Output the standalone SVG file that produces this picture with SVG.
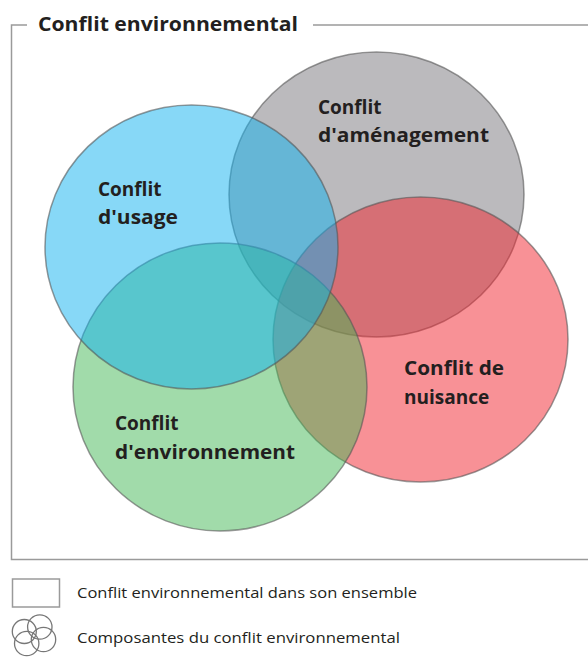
<svg xmlns="http://www.w3.org/2000/svg" width="588" height="657" viewBox="0 0 588 657">
<style>
.frame{fill:none;stroke:#9a9a9a;stroke-width:1.5}
.c{stroke:#555;stroke-opacity:0.6;stroke-width:1.5;fill-opacity:0.5}
.lbl{font-family:"Open Sans","Noto Sans",sans-serif;font-weight:700;font-size:19px;fill:#231f20}
.title{font-family:"Open Sans","Noto Sans",sans-serif;font-weight:700;font-size:19px;fill:#231f20}
.leg{font-family:"Open Sans","Noto Sans",sans-serif;font-size:14px;fill:#231f20}
.ic{fill:none;stroke:#777;stroke-width:1.3}
</style>
<rect width="588" height="657" fill="#ffffff"/>
<g id="frame">
<path class="frame" d="M27,25 H11.5 V559.5 H588"/>
<path class="frame" d="M313,25 H588"/>
<text class="title" x="38" y="31" textLength="260" lengthAdjust="spacingAndGlyphs">Conflit environnemental</text>
</g>
<g id="amenagement">
<ellipse class="c" cx="376.5" cy="194.5" rx="147.5" ry="142.5" fill="#77757b"/>
<text class="lbl" x="318" y="114">Conflit</text>
<text class="lbl" x="318" y="142" textLength="171" lengthAdjust="spacingAndGlyphs">d'aménagement</text>
</g>
<g id="nuisance">
<ellipse class="c" cx="420.5" cy="339.5" rx="147.5" ry="142.5" fill="#f1232d"/>
<text class="lbl" x="404" y="375" textLength="100" lengthAdjust="spacingAndGlyphs">Conflit de</text>
<text class="lbl" x="404" y="404">nuisance</text>
</g>
<g id="environnement">
<ellipse class="c" cx="220" cy="387" rx="147" ry="144" fill="#43b755"/>
<text class="lbl" x="115" y="430">Conflit</text>
<text class="lbl" x="115" y="459" textLength="180" lengthAdjust="spacingAndGlyphs">d'environnement</text>
</g>
<g id="usage">
<ellipse class="c" cx="191.5" cy="247" rx="146.5" ry="142" fill="#0fb1ef"/>
<text class="lbl" x="98" y="196">Conflit</text>
<text class="lbl" x="98" y="224" textLength="80" lengthAdjust="spacingAndGlyphs">d'usage</text>
</g>
<g id="legend">
<rect x="12.5" y="579" width="47" height="28" fill="none" stroke="#9a9a9a" stroke-width="1.5"/>
<text class="leg" x="77" y="598" textLength="340" lengthAdjust="spacingAndGlyphs">Conflit environnemental dans son ensemble</text>
<g id="legend-icon">
<circle class="ic" cx="39.8" cy="627" r="12.2"/>
<circle class="ic" cx="43.5" cy="639.5" r="12.2"/>
<circle class="ic" cx="26.7" cy="643.5" r="12.2"/>
<circle class="ic" cx="24.3" cy="631.5" r="12"/>
</g>
<text class="leg" x="77" y="643" textLength="323" lengthAdjust="spacingAndGlyphs">Composantes du conflit environnemental</text>
</g>
</svg>
